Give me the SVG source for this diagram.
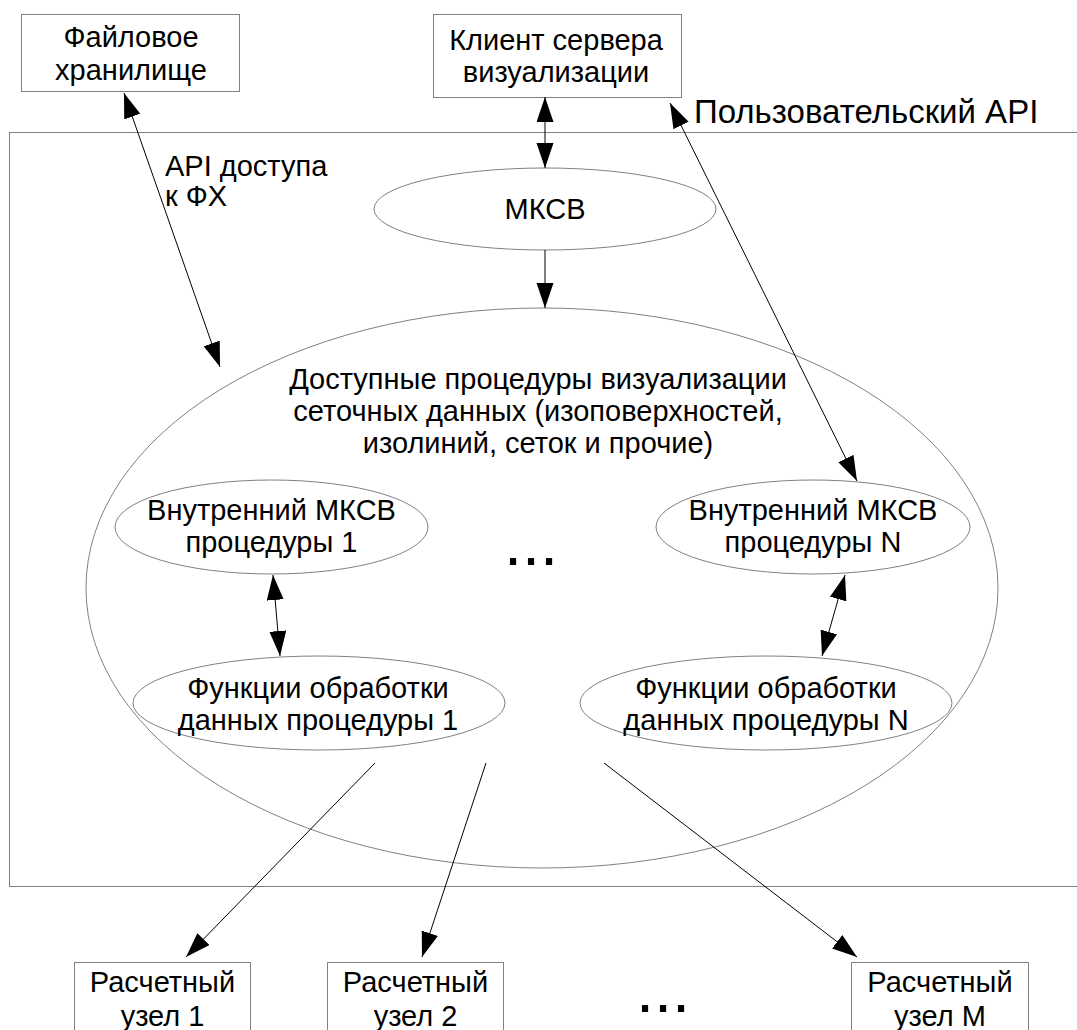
<svg xmlns="http://www.w3.org/2000/svg" width="1077" height="1030" viewBox="0 0 1077 1030">
<defs>
<style>
.box{fill:#fff;stroke:#808080;stroke-width:1}
.ell{fill:none;stroke:#808080;stroke-width:1}
.t{font-family:"Liberation Sans",Arial,sans-serif;font-size:29px;fill:#000;text-anchor:middle}
.tl{font-family:"Liberation Sans",Arial,sans-serif;font-size:29px;fill:#000}
.big{font-family:"Liberation Sans",Arial,sans-serif;font-size:33px;fill:#000}
.dots{font-family:"Liberation Sans",Arial,sans-serif;font-size:65px;fill:#000}
.c{fill:none;stroke:#000;stroke-width:1}
</style>
<marker id="ah" markerUnits="userSpaceOnUse" markerWidth="26" markerHeight="18" refX="25" refY="8.5" orient="auto-start-reverse" viewBox="0 0 26 18">
<path d="M0,0 L25,8.5 L0,17 z" fill="#000"/>
</marker>
</defs>
<rect width="1077" height="1030" fill="#fff"/>
<g id="api-area">
<rect class="box" x="9.5" y="132.5" width="1080" height="754" fill="none"/>
<text class="big" x="694" y="123">Пользовательский API</text>
</g>
<g id="file-storage">
<rect class="box" x="21.5" y="14.5" width="218" height="77"/>
<text class="t" x="131" y="47">Файловое</text>
<text class="t" x="131" y="80">хранилище</text>
</g>
<g id="client">
<rect class="box" x="433.5" y="14.5" width="248" height="83"/>
<text class="t" x="556" y="50">Клиент сервера</text>
<text class="t" x="556" y="82">визуализации</text>
</g>
<g id="api-fx-label">
<text class="tl" x="165" y="176">API доступа</text>
<text class="tl" x="165" y="206">к ФХ</text>
</g>
<g id="mksv">
<ellipse class="ell" cx="545" cy="209" rx="171" ry="41"/>
<text class="t" x="545" y="219">МКСВ</text>
</g>
<g id="procedures">
<ellipse class="ell" cx="542" cy="588" rx="456" ry="280"/>
<text class="t" x="538" y="389">Доступные процедуры визуализации</text>
<text class="t" x="538" y="421">сеточных данных (изоповерхностей,</text>
<text class="t" x="538" y="453">изолиний, сеток и прочие)</text>
</g>
<g id="inner1">
<ellipse class="ell" cx="271.5" cy="527" rx="156.5" ry="47"/>
<text class="t" x="271.5" y="520">Внутренний МКСВ</text>
<text class="t" x="271.5" y="552">процедуры 1</text>
</g>
<g id="innerN">
<ellipse class="ell" cx="813" cy="527" rx="157" ry="47"/>
<text class="t" x="813" y="520">Внутренний МКСВ</text>
<text class="t" x="813" y="552">процедуры N</text>
</g>
<g id="func1">
<ellipse class="ell" cx="319" cy="703" rx="186" ry="47"/>
<text class="t" x="318" y="698">Функции обработки</text>
<text class="t" x="318" y="730">данных процедуры 1</text>
</g>
<g id="funcN">
<ellipse class="ell" cx="766" cy="703" rx="186" ry="47"/>
<text class="t" x="766" y="698">Функции обработки</text>
<text class="t" x="766" y="730">данных процедуры N</text>
</g>
<g id="dots-mid">
<text class="dots" x="504" y="565">...</text>
</g>
<g id="node1">
<rect class="box" x="74.5" y="962.5" width="176" height="80"/>
<text class="t" x="162.5" y="992">Расчетный</text>
<text class="t" x="162.5" y="1026">узел 1</text>
</g>
<g id="node2">
<rect class="box" x="327.5" y="962.5" width="176" height="80"/>
<text class="t" x="415.5" y="992">Расчетный</text>
<text class="t" x="415.5" y="1026">узел 2</text>
</g>
<g id="dots-bottom">
<text class="dots" x="636" y="1012">...</text>
</g>
<g id="nodeM">
<rect class="box" x="851.5" y="962.5" width="177" height="80"/>
<text class="t" x="940" y="992">Расчетный</text>
<text class="t" x="940" y="1026">узел M</text>
</g>
<g id="connectors">
<path class="c" d="M124,93 L220,367" marker-start="url(#ah)" marker-end="url(#ah)"/>
<path class="c" d="M545,97 L545,168" marker-start="url(#ah)" marker-end="url(#ah)"/>
<path class="c" d="M545,250 L545,308" marker-end="url(#ah)"/>
<path class="c" d="M670,103 L857,481" marker-start="url(#ah)" marker-end="url(#ah)"/>
<path class="c" d="M273,575 L280,656" marker-start="url(#ah)" marker-end="url(#ah)"/>
<path class="c" d="M845,575 L822,656" marker-start="url(#ah)" marker-end="url(#ah)"/>
<path class="c" d="M375,763 L186,957" marker-end="url(#ah)"/>
<path class="c" d="M486,763 L422,957" marker-end="url(#ah)"/>
<path class="c" d="M604,763 L857,957" marker-end="url(#ah)"/>
</g>
</svg>
